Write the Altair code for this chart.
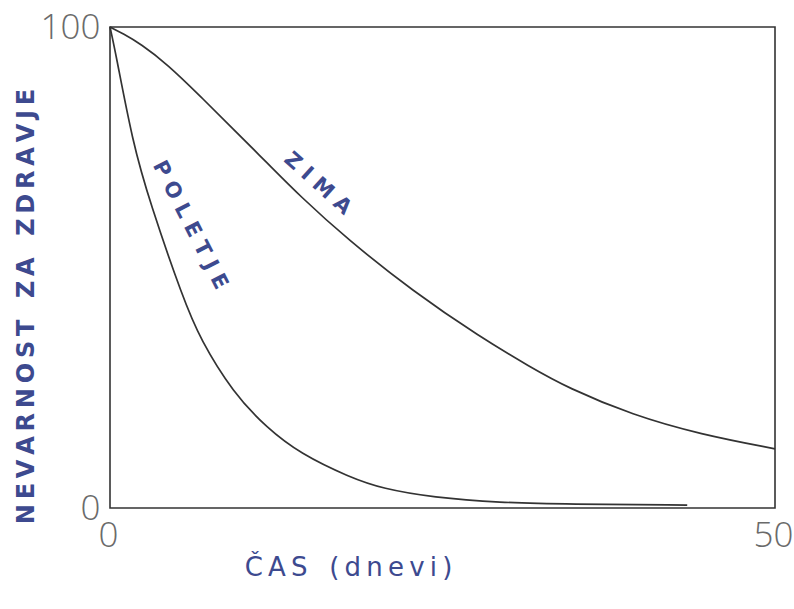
import altair as alt
import pandas as pd

# Winter curve (ZIMA): days and relative health risk
zima_days = [0, 1.0, 2.3, 4.3, 6.8, 9.25, 11.8, 14.3, 17.8, 22.8, 27.8, 31.6, 34.4, 39.3, 44.4, 50]
zima_risk = [100, 98.6, 96.5, 92.3, 85.6, 78.8, 71.8, 64.8, 56.0, 45.0, 35.6, 29.3, 25.0, 19.3, 15.3, 12.3]

# Summer curve (POLETJE)
poletje_days = [0, 0.4, 1.7, 3.0, 5.5, 6.8, 9.25, 11.8, 14.3, 18.0, 20.5, 24.3, 29.3, 34.4, 43.4]
poletje_risk = [100, 95.0, 76.0, 63.5, 43.5, 35.0, 24.0, 16.6, 11.3, 6.4, 4.0, 2.2, 1.1, 0.8, 0.6]

# Curve name labels and where they sit along each curve
label_names = ["ZIMA", "POLETJE"]
label_days = [15.6, 6.0]
label_risk = [67.4, 58.8]

x_ticks = [0, 50]
y_ticks = [0, 100]

INK = "#3d4a8f"
LINE = "#333333"
THIN = "\u2009"
NBSP = "\u00a0"


def spaced(text, gap=THIN):
    """Open up the lettering like hand-printed block capitals."""
    return gap.join(text)


curves = pd.concat([
    pd.DataFrame({"dan": zima_days, "nevarnost": zima_risk, "krivulja": "ZIMA"}),
    pd.DataFrame({"dan": poletje_days, "nevarnost": poletje_risk, "krivulja": "POLETJE"}),
])

labels = pd.DataFrame({"dan": label_days, "nevarnost": label_risk,
                       "ime": [spaced(n, " ") for n in label_names]})

x_title = spaced("ČAS") + NBSP + THIN + NBSP + spaced("(dnevi)")
y_title = (spaced("NEVARNOST") + NBSP + THIN + NBSP + spaced("ZA")
           + NBSP + THIN + NBSP + spaced("ZDRAVJE"))

tick_style = dict(labelFontSize=35, labelFont="Open Sans", labelFontWeight=300,
                  labelColor="#6a6a6a")

x_enc = alt.X("dan:Q", scale=alt.Scale(domain=[0, 50], nice=False, zero=False),
              axis=alt.Axis(values=x_ticks, title=x_title,
                            grid=False, ticks=False, domain=False, labelFlush=False,
                            labelPadding=10, labelBaseline="top", labelOffset=-2,
                            titleFont="DejaVu Sans", titleFontSize=26, titleFontWeight="normal",
                            titleColor=INK, titleX=238, titleY=67, titleBaseline="alphabetic",
                            titleAlign="center", **tick_style))
y_enc = alt.Y("nevarnost:Q", scale=alt.Scale(domain=[0, 100], nice=False, zero=False),
              axis=alt.Axis(values=y_ticks, title=y_title,
                            grid=False, ticks=False, domain=False,
                            labelPadding=10, labelBaseline="middle",
                            titleFont="DejaVu Sans", titleFontSize=24, titleFontWeight="bold",
                            titleColor=INK, titleX=-77, titleY=279, titleAngle=270,
                            titleBaseline="alphabetic", titleAlign="center", **tick_style))

lines = alt.Chart(curves).mark_line(
    interpolate="basis", color=LINE, strokeWidth=1.7
).encode(x=x_enc, y=y_enc, detail="krivulja:N")

label_style = dict(font="DejaVu Sans", fontSize=21, fontWeight="bold", color=INK,
                   align="center", baseline="middle")

zima_label = alt.Chart(labels).transform_filter(
    alt.datum.ime == spaced("ZIMA", " ")
).mark_text(angle=42, **label_style).encode(x="dan:Q", y="nevarnost:Q", text="ime:N")

poletje_label = alt.Chart(labels).transform_filter(
    alt.datum.ime == spaced("POLETJE", " ")
).mark_text(angle=63, **label_style).encode(x="dan:Q", y="nevarnost:Q", text="ime:N")

chart = alt.layer(lines, zima_label, poletje_label).properties(
    width=665, height=481,
    autosize=alt.AutoSizeParams(type="none"),
    padding={"left": 110, "top": 27, "right": 19, "bottom": 101},
    background="white",
).configure_view(stroke=LINE, strokeWidth=1.6)

chart.save("out.html", embed_options={"renderer": "svg", "actions": False})
